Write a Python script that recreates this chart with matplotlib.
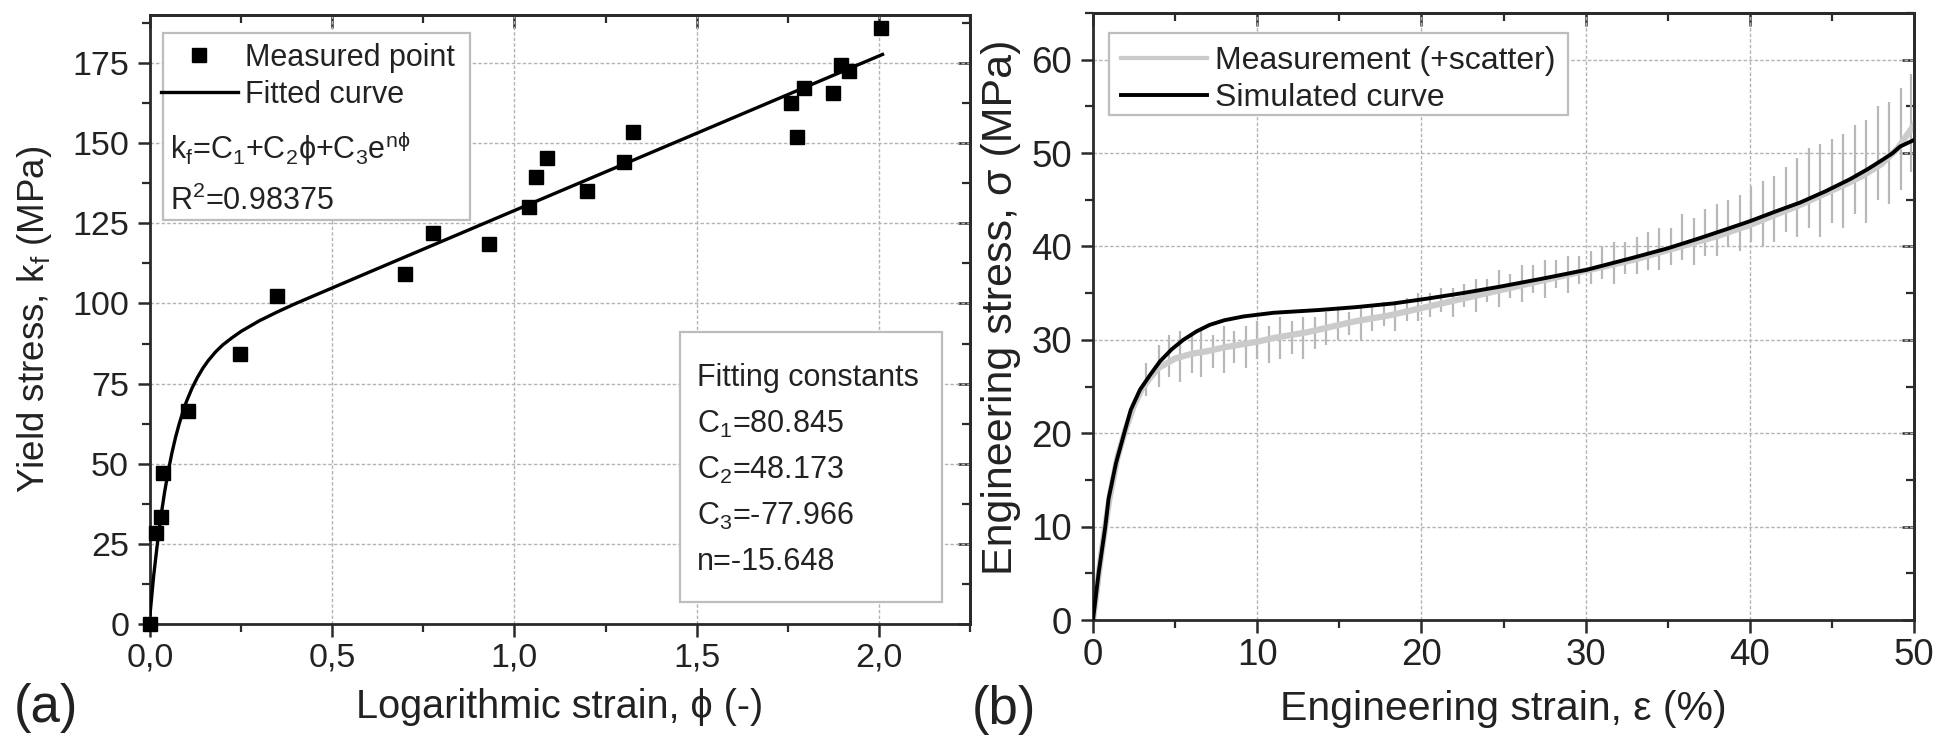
import matplotlib
matplotlib.use("Agg")
import matplotlib.pyplot as plt
from matplotlib.patches import Rectangle
from matplotlib.ticker import MultipleLocator, FixedLocator, FixedFormatter
from matplotlib.transforms import blended_transform_factory as blend

plt.rcParams['font.family'] = ['Liberation Sans', 'DejaVu Sans']
plt.rcParams['mathtext.fontset'] = 'custom'
plt.rcParams['mathtext.rm'] = 'Liberation Sans'
plt.rcParams['mathtext.it'] = 'Liberation Sans'
plt.rcParams['mathtext.sf'] = 'Liberation Sans'
plt.rcParams['mathtext.bf'] = 'Liberation Sans:bold'

# ---------------- data: panel (a) ----------------
phi_meas = [0.0, 0.016, 0.03, 0.036, 0.105, 0.246, 0.349, 0.70, 0.776, 0.93,
            1.04, 1.06, 1.09, 1.20, 1.30, 1.325, 1.758, 1.775, 1.794, 1.874,
            1.896, 1.918, 2.005]
kf_meas = [0.0, 28.3, 33.3, 47.0, 66.4, 84.1, 102.2, 109.3, 122.0, 118.6,
           130.0, 139.6, 145.4, 135.0, 144.0, 153.5, 162.6, 152.0, 167.3, 165.7,
           174.5, 172.6, 186.0]

phi_fit = [0.0, 0.01, 0.02, 0.03, 0.04, 0.05, 0.06, 0.07, 0.08, 0.09, 0.10,
           0.115, 0.13, 0.145, 0.16, 0.18, 0.20, 0.225, 0.25, 0.30, 0.35,
           0.40, 0.60, 1.00, 1.50, 2.01]
kf_fit = [2.9, 15.0, 24.8, 33.6, 41.1, 47.6, 53.3, 58.2, 62.4, 66.1, 69.4,
          73.5, 76.9, 79.8, 82.2, 84.9, 87.1, 89.3, 91.3, 94.6, 97.4,
          100.0, 109.7, 129.0, 153.1, 177.7]

xticks_a = [0.0, 0.5, 1.0, 1.5, 2.0]
xticklabels_a = ['0,0', '0,5', '1,0', '1,5', '2,0']
yticks_a = [0, 25, 50, 75, 100, 125, 150, 175]

legend_a_labels = ['Measured point', 'Fitted curve']
formula_text = r'k$_\mathregular{f}$=C$_1$+C$_2\phi$+C$_3$e$^{n\phi}$'
r2_text = r'R$^2$=0.98375'
const_lines = ['Fitting constants',
               r'C$_1$=80.845',
               r'C$_2$=48.173',
               r'C$_3$=-77.966',
               'n=-15.648']

# ---------------- data: panel (b) ----------------
eps_sim = [0, 0.34, 0.75, 0.95, 1.4, 1.9, 2.3, 2.86, 3.5, 4.08, 4.8, 5.5, 6.3,
           7.1, 8.0, 9.15, 11.0, 13.8, 16.0, 18.3, 20.3, 22.5, 24.8, 27.5,
           30.07, 32.9, 35.0, 36.97, 38.5, 40.0, 41.5, 43.06, 44.6, 46.1, 47.2,
           48.1, 48.7, 49.15, 50.0]
sig_sim = [0, 5.0, 10.0, 13.0, 16.8, 20.0, 22.5, 24.65, 26.3, 27.7, 29.0, 30.0,
           30.9, 31.6, 32.1, 32.5, 32.9, 33.2, 33.5, 33.9, 34.4, 35.0, 35.7,
           36.6, 37.5, 38.8, 39.8, 40.9, 41.8, 42.7, 43.7, 44.7, 45.9, 47.2,
           48.3, 49.3, 50.0, 50.7, 51.4]

eps_meas = [0, 0.5, 1, 1.5, 2, 2.5, 3, 3.5, 4, 5, 6, 7, 8, 9, 10, 11, 12, 13,
            14, 15, 16, 17, 18, 19, 20, 21, 22, 23, 24, 25, 26, 27, 28, 29, 30,
            31, 32, 33, 34, 35, 36, 37, 38, 39, 40, 41, 42, 43, 44, 45, 46, 47,
            48, 49, 50]
sig_meas = [0, 7.0, 13.0, 17.5, 20.5, 23.0, 24.8, 26.0, 27.0, 28.0, 28.5, 28.8,
            29.2, 29.5, 29.8, 30.2, 30.5, 30.8, 31.2, 31.6, 32.0, 32.3, 32.6,
            33.0, 33.4, 33.8, 34.2, 34.6, 35.0, 35.4, 35.8, 36.2, 36.6, 37.0,
            37.4, 37.8, 38.2, 38.6, 39.1, 39.6, 40.1, 40.6, 41.1, 41.7, 42.3,
            43.0, 43.7, 44.4, 45.2, 46.0, 46.8, 47.7, 48.8, 50.5, 53.0]

spike_eps = [3.2, 4.0, 4.6, 5.3, 6.0, 6.6, 7.3, 8.0, 8.6, 9.3, 10.0, 10.7, 11.4,
             12.1, 12.8, 13.5, 14.2, 14.9, 15.6, 16.3, 17.0, 17.7, 18.4, 19.1,
             19.8, 20.5, 21.2, 21.9, 22.6, 23.3, 24.0, 24.7, 25.4, 26.1, 26.8,
             27.5, 28.2, 28.9, 29.6, 30.3, 31.0, 31.7, 32.4, 33.1, 33.8, 34.5,
             35.2, 35.9, 36.6, 37.3, 38.0, 38.7, 39.4, 40.1, 40.8, 41.5, 42.2,
             42.9, 43.6, 44.3, 45.0, 45.7, 46.4, 47.1, 47.8, 48.5, 49.2, 49.8]
spike_lo = [24.0, 25.0, 26.0, 25.5, 26.5, 26.0, 27.0, 26.5, 27.5, 27.0, 28.0,
            27.5, 28.0, 28.5, 28.0, 29.0, 29.5, 30.0, 30.5, 30.0, 31.0, 31.5,
            31.0, 32.0, 32.0, 32.5, 33.0, 32.5, 33.5, 33.0, 34.0, 33.5, 34.5,
            34.0, 35.0, 34.5, 35.5, 35.0, 36.0, 36.0, 36.5, 36.0, 37.0, 37.0,
            37.5, 37.5, 38.0, 38.5, 38.0, 39.0, 39.0, 40.0, 39.5, 40.5, 40.0,
            40.5, 41.5, 41.0, 42.0, 41.0, 42.5, 42.0, 43.5, 42.5, 45.0, 44.5,
            46.0, 48.0]
spike_hi = [27.5, 29.5, 30.5, 31.0, 30.5, 31.0, 30.5, 31.5, 31.0, 31.5, 32.0,
            31.5, 32.5, 32.0, 32.5, 32.5, 33.0, 33.5, 33.0, 33.5, 33.5, 34.0,
            34.0, 34.5, 35.0, 35.0, 35.5, 35.5, 36.0, 36.5, 36.5, 37.5, 37.0,
            38.0, 38.0, 38.5, 38.5, 39.0, 39.0, 39.5, 40.0, 40.5, 40.5, 41.0,
            41.5, 42.0, 42.0, 43.5, 43.0, 44.0, 44.5, 45.0, 45.5, 46.5, 47.0,
            47.5, 48.5, 49.5, 50.5, 51.0, 51.5, 52.0, 53.0, 53.5, 55.0, 55.5,
            57.0, 58.5]

xticks_b = [0, 10, 20, 30, 40, 50]
yticks_b = [0, 10, 20, 30, 40, 50, 60]
legend_b_labels = ['Measurement (+scatter)', 'Simulated curve']

# ---------------- figure ----------------
W, H = 1942, 736
fig = plt.figure(figsize=(W / 100, H / 100), dpi=100)


def fx(px):
    return px / W


def fy(py):
    return 1 - py / H


SPINE = '#2a2a2a'
GRID = '#b4b4b4'
TXT = '#222222'


def style_axes(ax, xminor, yminor, tick_fs):
    for s in ax.spines.values():
        s.set_linewidth(2.0)
        s.set_color(SPINE)
    ax.xaxis.set_minor_locator(MultipleLocator(xminor))
    ax.yaxis.set_minor_locator(MultipleLocator(yminor))
    ax.tick_params(which='major', direction='out', length=9, width=1.8,
                   color=SPINE, labelsize=tick_fs, labelcolor=TXT)
    ax.tick_params(which='minor', direction='out', length=5.5, width=1.6,
                   color=SPINE)
    ax.tick_params(axis='x', pad=4)
    ax.tick_params(axis='y', pad=6)
    ax.grid(True, which='major', color=GRID, lw=1.0, ls=(0, (2.5, 1.5)),
            zorder=0)
    ax.set_axisbelow(True)
    top = ax.secondary_xaxis('top')
    top.set_xticks(ax.get_xticks())
    top.xaxis.set_minor_locator(MultipleLocator(xminor))
    top.tick_params(which='major', direction='in', length=9, width=1.8,
                    color=SPINE, labeltop=False)
    top.tick_params(which='minor', direction='in', length=5.5, width=1.6,
                    color=SPINE)
    top.spines['top'].set_linewidth(2.0)
    top.spines['top'].set_color(SPINE)
    right = ax.secondary_yaxis('right')
    right.set_yticks(ax.get_yticks())
    right.yaxis.set_minor_locator(MultipleLocator(yminor))
    right.tick_params(which='major', direction='in', length=9, width=1.8,
                      color=SPINE, labelright=False)
    right.tick_params(which='minor', direction='in', length=5.5, width=1.6,
                      color=SPINE)
    right.spines['right'].set_linewidth(2.0)
    right.spines['right'].set_color(SPINE)


def add_box(ax, x0, y0, x1, y1):
    ax.add_patch(Rectangle((fx(x0), fy(y1)), fx(x1 - x0), (y1 - y0) / H,
                           transform=fig.transFigure, facecolor='white',
                           edgecolor='#bdbdbd', lw=1.6, zorder=5,
                           clip_on=False))


# ---------- panel (a) ----------
ax1 = fig.add_axes([fx(150), fy(624), fx(970 - 150), (624 - 15) / H])
h_pts, = ax1.plot(phi_meas, kf_meas, ls='none', marker='s', ms=9.5,
                  color='black', zorder=4, clip_on=False)
h_fit, = ax1.plot(phi_fit, kf_fit, color='black', lw=2.4, zorder=3)
ax1.set_xlim(0, 2.25)
ax1.set_ylim(0, 190)
ax1.xaxis.set_major_locator(FixedLocator(xticks_a))
ax1.xaxis.set_major_formatter(FixedFormatter(xticklabels_a))
ax1.yaxis.set_major_locator(FixedLocator(yticks_a))
style_axes(ax1, 0.25, 12.5, 24.5)
ax1.set_xlabel('Logarithmic strain, ϕ (-)', fontsize=28.5, color=TXT)
ax1.set_ylabel(r'Yield stress, k$_\mathregular{f}$ (MPa)', fontsize=26.5,
               color=TXT)
ax1.xaxis.set_label_coords(0.5, fy(688),
                           transform=blend(ax1.transAxes, fig.transFigure))
ax1.yaxis.set_label_coords(fx(54), 0.5,
                           transform=blend(fig.transFigure, ax1.transAxes))

add_box(ax1, 163, 33, 470, 220)
leg1 = ax1.legend([h_pts, h_fit], legend_a_labels, loc='upper left',
                  bbox_to_anchor=(fx(152), fy(34)),
                  bbox_transform=fig.transFigure, frameon=False,
                  fontsize=22, handlelength=2.5, handletextpad=0.25,
                  labelspacing=0.22, borderaxespad=0, borderpad=0.3)
leg1.set_zorder(6)
for t in leg1.get_texts():
    t.set_color(TXT)
ax1.text(fx(170), fy(148), formula_text, fontsize=22, va='center',
         ha='left', color=TXT, zorder=7, transform=fig.transFigure)
ax1.text(fx(170), fy(201), r2_text, fontsize=22, va='center', ha='left',
         color=TXT, zorder=7, transform=fig.transFigure)

add_box(ax1, 680, 332, 942, 602)
for i, line in enumerate(const_lines):
    ax1.text(fx(697), fy(378 + i * 46), line, fontsize=22, va='center',
             ha='left', color=TXT, zorder=7, transform=fig.transFigure)

fig.text(fx(14), fy(708), '(a)', fontsize=38, va='center', ha='left',
         color=TXT)

# ---------- panel (b) ----------
ax2 = fig.add_axes([fx(1093), fy(620), fx(1914 - 1093), (620 - 13) / H])
ax2.vlines(spike_eps, spike_lo, spike_hi, colors='#b8b8b8', lw=1.6,
           zorder=2)
h_meas, = ax2.plot(eps_meas, sig_meas, color='#cbcbcb', lw=4.5, zorder=2)
h_sim, = ax2.plot(eps_sim, sig_sim, color='black', lw=2.8, zorder=3)
ax2.set_xlim(0, 50)
ax2.set_ylim(0, 65)
ax2.xaxis.set_major_locator(FixedLocator(xticks_b))
ax2.yaxis.set_major_locator(FixedLocator(yticks_b))
style_axes(ax2, 5, 5, 26.5)
ax2.set_xlabel('Engineering strain, ε (%)', fontsize=29.5, color=TXT)
ax2.set_ylabel('Engineering stress, σ (MPa)', fontsize=31, color=TXT)
ax2.xaxis.set_label_coords(0.5, fy(690),
                           transform=blend(ax2.transAxes, fig.transFigure))
ax2.yaxis.set_label_coords(fx(1021), 0.515,
                           transform=blend(fig.transFigure, ax2.transAxes))

add_box(ax2, 1109, 33, 1568, 115)
leg2 = ax2.legend([h_meas, h_sim], legend_b_labels, loc='upper left',
                  bbox_to_anchor=(fx(1118), fy(43)),
                  bbox_transform=fig.transFigure, frameon=False,
                  fontsize=23, handlelength=2.7, handletextpad=0.25,
                  labelspacing=0.21, borderaxespad=0, borderpad=0.1)
leg2.set_zorder(6)
leg2.get_lines()[0].set_linewidth(3.0)
for t in leg2.get_texts():
    t.set_color(TXT)

fig.text(fx(972), fy(710), '(b)', fontsize=38, va='center', ha='left',
         color=TXT)

fig.savefig('out.png', dpi=100, facecolor='white')
